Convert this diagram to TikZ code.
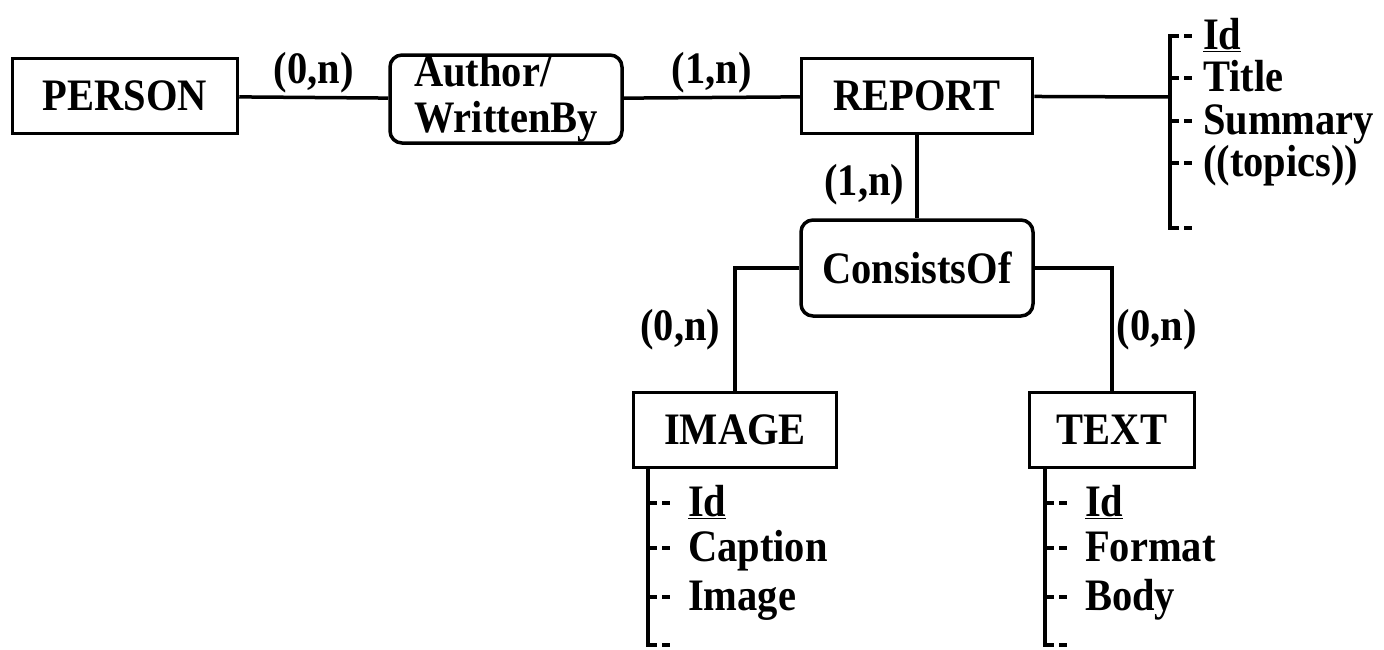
\documentclass[tikz,border=0pt]{standalone}
\usepackage{fontspec}
\setmainfont{Liberation Serif}[
    BoldFont={Liberation Serif Bold},
    FakeStretch=0.9]
\usetikzlibrary{positioning,calc}

\newcommand{\erfont}{\bfseries\fontsize{45}{46}\selectfont}

\begin{document}
\begin{tikzpicture}[x=1pt, y=-1pt,
        entity/.style={
            draw,
            line width=3.5pt,
            minimum height=75pt,
            inner sep=0pt,
            font=\erfont
        },
        relship/.style={
            draw,
            line width=3.5pt,
            rounded corners=12pt,
            inner sep=0pt,
            align=left,
            font=\erfont
        },
        card/.style={font=\erfont, inner sep=3pt},
        attr/.style={anchor=west, inner sep=0pt, text height=30pt, text depth=4pt, font=\erfont},
        link/.style={line width=3.5pt},
        attrline/.style={line width=3.5pt, line cap=rect},
        tick/.style={line width=3.5pt, dash pattern=on 9pt off 5pt}
    ]
    \useasboundingbox (0,0) rectangle (1384,649);

    % Entidades e relacionamentos
    \node[entity, minimum width=225pt] (person) at (125,96) {PERSON};
    \node[relship, minimum width=232pt, minimum height=88pt] (writtenby) at (506,99) {Author/\\WrittenBy};
    \node[entity, minimum width=231pt] (report) at (917,96) {REPORT};
    \node[relship, minimum width=232pt, minimum height=96pt] (consists) at (917,268) {ConsistsOf};
    \node[entity, minimum width=203pt] (image) at (735,430) {IMAGE};
    \node[entity, minimum width=165pt] (txt) at (1112,430) {TEXT};

    % Ligacoes
    \draw[link] (person) -- node[card, above] {(0,n)} (writtenby);
    \draw[link] (writtenby) -- node[card, above] {(1,n)} (report);
    \draw[link] (report) -- node[card, left, xshift=-8pt, yshift=-8pt] {(1,n)} (consists);
    \draw[link] (consists) -| node[card, pos=0.75, left, xshift=-10pt] {(0,n)} (image);
    \draw[link] (consists) -| node[card, pos=0.75, right] {(0,n)} (txt);

    % Atributos de REPORT
    \coordinate (rattr) at (1170,97);
    \coordinate (rend) at (1170,228);
    \node[attr] (rid) at (1203,36) {\underline{Id}};
    \node[attr] (rtitle) at (1203,78) {Title};
    \node[attr] (rsum) at (1203,121) {Summary};
    \node[attr] (rtopics) at (1203,163) {((topics))};
    \draw[link] (report) -- (rattr);
    \draw[attrline] (rattr |- rid.west) -- (rend);
    \draw[tick] (rattr |- rid.west) -- ++(22,0);
    \draw[tick] (rattr |- rtitle.west) -- ++(22,0);
    \draw[tick] (rattr |- rsum.west) -- ++(22,0);
    \draw[tick] (rattr |- rtopics.west) -- ++(22,0);
    \draw[tick] (rend) -- ++(22,0);

    % Atributos de IMAGE
    \coordinate (iend) at (648,645);
    \node[attr] (iid) at (688,503) {\underline{Id}};
    \node[attr] (icaption) at (688,548) {Caption};
    \node[attr] (iimage) at (688,597) {Image};
    \draw[attrline] (image.south -| iend) -- (iend);
    \draw[tick] (iend |- iid.west) -- ++(22,0);
    \draw[tick] (iend |- icaption.west) -- ++(22,0);
    \draw[tick] (iend |- iimage.west) -- ++(22,0);
    \draw[tick] (iend) -- ++(22,0);

    % Atributos de TEXT
    \coordinate (tend) at (1045,645);
    \node[attr] (tid) at (1085,503) {\underline{Id}};
    \node[attr] (tformat) at (1085,548) {Format};
    \node[attr] (tbody) at (1085,597) {Body};
    \draw[attrline] (txt.south -| tend) -- (tend);
    \draw[tick] (tend |- tid.west) -- ++(22,0);
    \draw[tick] (tend |- tformat.west) -- ++(22,0);
    \draw[tick] (tend |- tbody.west) -- ++(22,0);
    \draw[tick] (tend) -- ++(22,0);

\end{tikzpicture}
\end{document}
